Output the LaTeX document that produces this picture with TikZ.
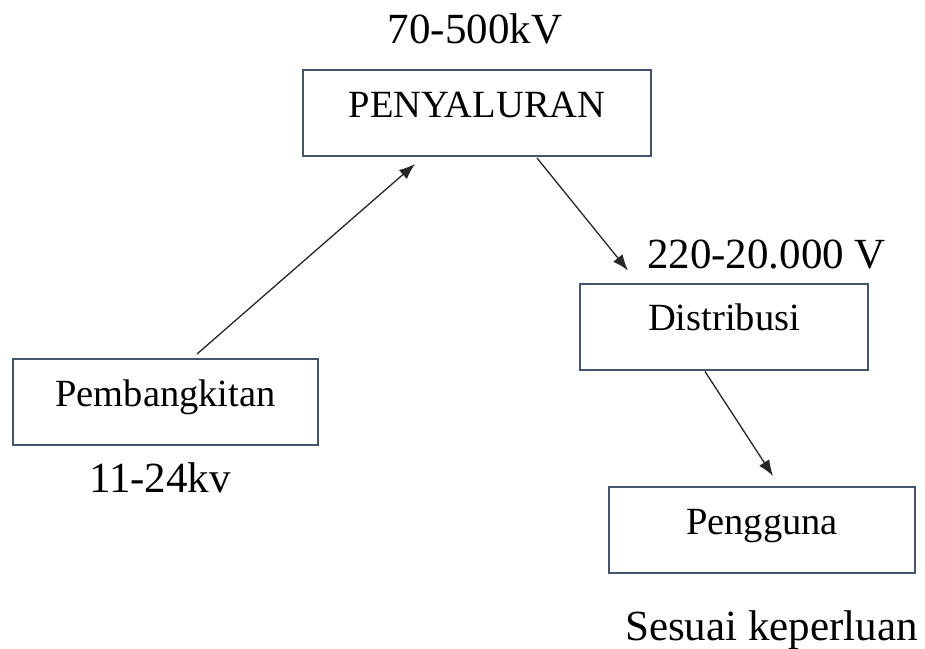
\documentclass[tikz,border=0pt]{standalone}
\usepackage{fontspec}
\setmainfont{Liberation Serif}
\usetikzlibrary{arrows.meta}
\definecolor{garis}{RGB}{68,84,106}
\tikzset{
    %Define standard arrow tip
    >={Latex[length=16pt,width=12pt]},
    %Define style for boxes
    kotak/.style={
           rectangle,
           draw=garis, line width=2pt,
           inner sep=0pt,
           text height=47pt,
           text depth=39pt,
           font=\fontsize{38.5}{46}\selectfont},
    % Define style for voltage labels
    tegangan/.style={
           anchor=base,
           inner sep=0pt,
           font=\fontsize{43}{52}\selectfont},
    % Define arrow style
    pil/.style={
           ->,
           line width=1.3pt,
           draw=black!85}
}

\begin{document}
\begin{tikzpicture}[x=1pt, y=-1pt]
\useasboundingbox (0,0) rectangle (925,648);

%nodes
\node[kotak, minimum width=348pt] (peny) at (477,113) {PENYALURAN};
\node[kotak, minimum width=288pt] (dist) at (724,326.5) {Distribusi};
\node[kotak, minimum width=305pt] (pemb) at (165.5,402) {Pembangkitan};
\node[kotak, minimum width=306pt] (peng) at (762,530) {Pengguna};

%labels
\node[tegangan] (vpeny) at (475,43) {70-500kV};
\node[tegangan] (vdist) at (766.5,268) {220-20.000 V};
\node[tegangan] (vpemb) at (160,492) {11-24kv};
\node[tegangan] (vpeng) at (771.5,640) {Sesuai keperluan};

\draw [pil] ([xshift=31.5pt,yshift=4pt]pemb.north) -- ([xshift=-62pt,yshift=-7pt]peny.south);
\draw [pil] ([xshift=60pt,yshift=-1pt]peny.south) -- ([xshift=-96pt,yshift=12pt]dist.north);
\draw [pil] ([xshift=-19pt,yshift=-1pt]dist.south) -- ([xshift=11pt,yshift=10pt]peng.north);

\end{tikzpicture}
\end{document}
